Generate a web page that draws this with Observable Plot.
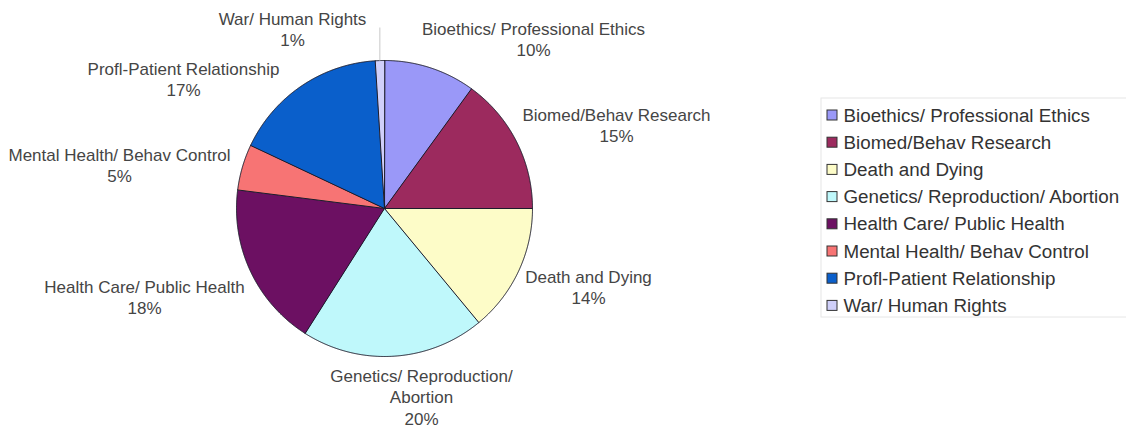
<!DOCTYPE html>
<html><head><meta charset="utf-8">
<script src="https://cdn.jsdelivr.net/npm/d3@7"></script>
<script src="https://cdn.jsdelivr.net/npm/@observablehq/plot@0.6"></script>
<style>body{margin:0;background:#fff;overflow:hidden}</style>
</head><body><div id="chart"></div>
<script>
// ---- data ----
const categories = [
  "Bioethics/ Professional Ethics",
  "Biomed/Behav Research",
  "Death and Dying",
  "Genetics/ Reproduction/ Abortion",
  "Health Care/ Public Health",
  "Mental Health/ Behav Control",
  "Profl-Patient Relationship",
  "War/ Human Rights"
];
const shares = [10, 15, 14, 20, 18, 5, 17, 1];
const sliceLabels = [
  "Bioethics/ Professional Ethics",
  "Biomed/Behav Research",
  "Death and Dying",
  "Genetics/ Reproduction/\nAbortion",
  "Health Care/ Public Health",
  "Mental Health/ Behav Control",
  "Profl-Patient Relationship",
  "War/ Human Rights"
];
const colors = ["#9a98f8", "#9c2a5e", "#fdfcc8", "#bff8fb", "#6c1062", "#f77474", "#0a5fcb", "#d0d0fa"];

// ---- layout ----
const W = 1126, H = 429, cx = 384, cy = 208, R = 148;
const labelXY = [[533, 38], [616, 124.5], [588, 286], [421, 396], [144, 296], [119, 164.5], [183, 78.5], [292, 28]];
const legendTop = 115, legendStep = 27.2;

const rows = categories.map((c, i) => ({cat: c, share: shares[i], label: sliceLabels[i]}));
const arcs = d3.pie().sort(null).value(d => d.share)(rows);

const slicePts = arcs.flatMap(p => {
  const pts = [{cat: p.data.cat, x: cx, y: cy}];
  const n = Math.max(2, Math.ceil((p.endAngle - p.startAngle) / 0.005));
  for (let i = 0; i <= n; i++) {
    const a = p.startAngle + (p.endAngle - p.startAngle) * i / n;
    pts.push({cat: p.data.cat, x: cx + R * Math.sin(a), y: cy - R * Math.cos(a)});
  }
  return pts;
});

const labels = arcs.map((p, i) => ({
  text: p.data.label + "\n" + Math.round(p.data.share) + "%",
  x: labelXY[i][0], y: labelXY[i][1]
}));

// leader line for the thin War slice
const war = arcs[arcs.length - 1];
const warMid = (war.startAngle + war.endAngle) / 2;
const leader = [{x1: cx + R * Math.sin(warMid), y1: cy - R * Math.cos(warMid), x2: cx + R * Math.sin(warMid), y2: labelXY[7][1] - 1}];

const legendRows = categories.map((c, i) => ({cat: c, ly: legendTop + i * legendStep}));

const chart = Plot.plot({
  width: W, height: H,
  margin: 0,
  x: {domain: [0, W], range: [0, W], axis: null},
  y: {domain: [0, H], range: [0, H], axis: null},
  color: {domain: categories, range: colors},
  style: {fontFamily: "'Liberation Sans', Arial, sans-serif", background: "#fff"},
  marks: [
    Plot.line(slicePts, {x: "x", y: "y", z: "cat", fill: "cat", stroke: "#1c1c2c", strokeWidth: 1, curve: "linear-closed"}),
    Plot.link(leader, {x1: "x1", y1: "y1", x2: "x2", y2: "y2", stroke: "#c8c8c8", strokeWidth: 1}),
    Plot.text(labels, {x: "x", y: "y", text: "text", fontSize: 17, lineHeight: 1.25, fill: "#454545", textAnchor: "middle", lineAnchor: "middle"}),
    Plot.rect([{}], {x1: () => 821, x2: () => 1130, y1: () => 98, y2: () => 317, fill: "none", stroke: "#e6e6e6", strokeWidth: 1}),
    Plot.rect(legendRows, {x1: () => 827, x2: () => 837, y1: d => d.ly - 5, y2: d => d.ly + 5, fill: "cat", stroke: "#333", strokeWidth: 1}),
    Plot.text(legendRows, {x: () => 843, y: "ly", text: "cat", fontSize: 18.8, fill: "#333", textAnchor: "start", lineAnchor: "middle"})
  ]
});
document.getElementById("chart").appendChild(chart);
</script>
</body></html>
